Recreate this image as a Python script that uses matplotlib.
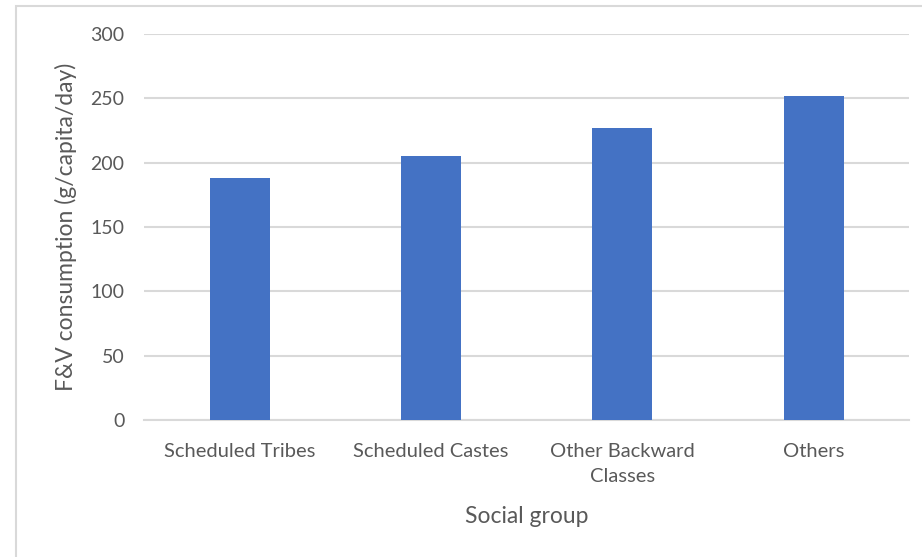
import matplotlib
matplotlib.use("Agg")
import matplotlib.pyplot as plt
from matplotlib.patches import Rectangle

# F&V consumption by social group
groups = ["Scheduled Tribes", "Scheduled Castes", "Other Backward\nClasses", "Others"]
consumption = [188, 205, 227, 252]
yticks = [0, 50, 100, 150, 200, 250, 300]

plt.rcParams["font.family"] = ["Lato", "DejaVu Sans"]
text_grey = "#595959"
grid_grey = "#d9d9d9"

fig = plt.figure(figsize=(9.22, 5.57), dpi=100)
ax = fig.add_axes([0.1562, 0.2454, 0.8300, 0.6941])

x = range(len(groups))
ax.bar(x, consumption, width=0.314, color="#4472C4", zorder=3)

ax.set_xlim(-0.5, len(groups) - 0.5)
ax.set_ylim(0, 300)
ax.set_yticks(yticks)
ax.set_xticks(list(x))
ax.set_xticklabels(groups, linespacing=1.6)

ax.grid(axis="y", color=grid_grey, linewidth=1.5, zorder=0)
for side in ["top", "right", "left"]:
    ax.spines[side].set_visible(False)
ax.spines["bottom"].set_color(grid_grey)
ax.spines["bottom"].set_linewidth(1.5)

ax.tick_params(axis="both", length=0, labelsize=14.5, colors=text_grey)
ax.tick_params(axis="y", labelsize=14, pad=14)
ax.tick_params(axis="x", pad=16)

ax.set_xlabel("Social group", fontsize=16.5, color=text_grey, labelpad=15)
ax.set_ylabel("F&V consumption (g/capita/day)", fontsize=16.5, color=text_grey, labelpad=10)

# light frame around the chart area
fig.add_artist(Rectangle((16 / 922, -0.1), 2, (557 - 6) / 557 + 0.1,
                         transform=fig.transFigure, facecolor="none",
                         edgecolor=grid_grey, linewidth=1.5))

fig.savefig("out.png", dpi=100)
